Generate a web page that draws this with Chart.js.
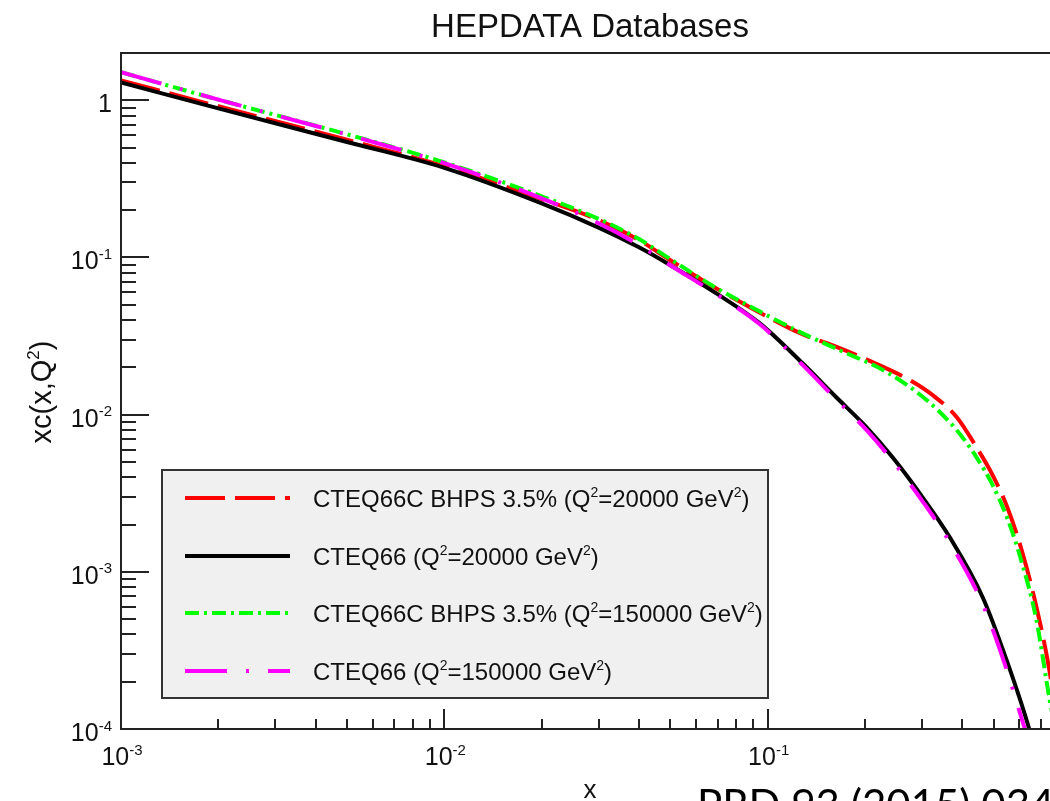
<!DOCTYPE html>
<html>
<head>
<meta charset="utf-8">
<script src="https://cdn.jsdelivr.net/npm/chart.js@4.4.0/dist/chart.umd.min.js"></script>
<style>
  html, body { margin: 0; padding: 0; background: #fff; overflow: hidden; }
  #wrap { position: relative; width: 1100px; height: 801px; }
</style>
</head>
<body>
<div id="wrap"><canvas id="chart-pdf" width="1100" height="801"></canvas></div>
<script>
// CTEQ66C BHPS 3.5%, Q^2 = 20000 GeV^2
var xBhps20k = [0.001, 0.002, 0.005, 0.01, 0.02, 0.03, 0.04, 0.05, 0.07, 0.094, 0.126, 0.167, 0.211, 0.275, 0.324, 0.384, 0.442, 0.496, 0.552, 0.610, 0.678, 0.745, 0.799];
var yBhps20k = [1.34, 0.916, 0.561, 0.380, 0.235, 0.173, 0.129, 0.0961, 0.0629, 0.0449, 0.0330, 0.0265, 0.0216, 0.0166, 0.0133, 0.00966, 0.00622, 0.00413, 0.00255, 0.00138, 0.000598, 0.000231, 0.0000854];

// CTEQ66, Q^2 = 20000 GeV^2
var xCteq20k = [0.001, 0.002, 0.005, 0.01, 0.02, 0.03, 0.04, 0.05, 0.07, 0.0944, 0.128, 0.163, 0.202, 0.243, 0.301, 0.365, 0.462, 0.548, 0.645, 0.67];
var yCteq20k = [1.30, 0.889, 0.543, 0.372, 0.221, 0.155, 0.116, 0.0893, 0.0584, 0.0382, 0.0213, 0.0129, 0.00834, 0.00537, 0.00299, 0.00167, 0.000692, 0.000275, 0.0000989, 0.000073];

// CTEQ66C BHPS 3.5%, Q^2 = 150000 GeV^2
var xBhps150k = [0.001, 0.002, 0.005, 0.01, 0.02, 0.03, 0.04, 0.05, 0.07, 0.094, 0.126, 0.167, 0.233, 0.310, 0.384, 0.442, 0.496, 0.552, 0.610, 0.678, 0.745, 0.788];
var yBhps150k = [1.51, 1.01, 0.608, 0.403, 0.245, 0.176, 0.131, 0.0976, 0.0633, 0.0456, 0.0335, 0.0257, 0.0187, 0.0124, 0.00798, 0.00537, 0.00357, 0.00217, 0.00116, 0.000494, 0.000153, 0.0000854];

// CTEQ66, Q^2 = 150000 GeV^2
var xCteq150k = [0.001, 0.002, 0.005, 0.01, 0.02, 0.03, 0.04, 0.05, 0.07, 0.0944, 0.128, 0.163, 0.202, 0.243, 0.301, 0.365, 0.462, 0.548, 0.62, 0.65];
var yCteq150k = [1.51, 1.01, 0.605, 0.398, 0.238, 0.165, 0.120, 0.0893, 0.0578, 0.0377, 0.0208, 0.0125, 0.0080, 0.0051, 0.00282, 0.00155, 0.000625, 0.000240, 0.000105, 0.000078];

var seriesLabels = [
  "CTEQ66C BHPS 3.5% (Q^{2}=20000 GeV^{2})",
  "CTEQ66 (Q^{2}=20000 GeV^{2})",
  "CTEQ66C BHPS 3.5% (Q^{2}=150000 GeV^{2})",
  "CTEQ66 (Q^{2}=150000 GeV^{2})"
];

var yTickValues = [0.0001, 0.001, 0.01, 0.1, 1];
var yTickLabels = ["10^{-4}", "10^{-3}", "10^{-2}", "10^{-1}", "1"];
var xTickValues = [0.001, 0.01, 0.1];
var xTickLabels = ["10^{-3}", "10^{-2}", "10^{-1}"];

var chartTitle = "HEPDATA Databases";
var xTitle = "x";
var yTitle = "xc(x,Q^{2})";
var footNote = "PRD 93 (2015) 034031";

var FONT = "'Liberation Sans', Arial, Helvetica, sans-serif";

function toPoints(xs, ys) {
  return xs.map(function (x, i) { return { x: x, y: ys[i] }; });
}

// split "Q^{2}" style text into normal / superscript pieces
function richParts(str) {
  var parts = [];
  var re = /\^\{([^}]*)\}/g, last = 0, m;
  while ((m = re.exec(str))) {
    if (m.index > last) parts.push({ t: str.slice(last, m.index), sup: false });
    parts.push({ t: m[1], sup: true });
    last = re.lastIndex;
  }
  if (last < str.length) parts.push({ t: str.slice(last), sup: false });
  return parts;
}

function drawRich(ctx, str, x, y, size, align) {
  var parts = richParts(str);
  var supSize = Math.round(size * 0.6);
  var widths = parts.map(function (p) {
    ctx.font = (p.sup ? supSize : size) + "px " + FONT;
    return ctx.measureText(p.t).width;
  });
  var total = widths.reduce(function (a, b) { return a + b; }, 0);
  var cx = align === "right" ? x - total : align === "center" ? x - total / 2 : x;
  ctx.textAlign = "left";
  ctx.textBaseline = "alphabetic";
  parts.forEach(function (p, i) {
    ctx.font = (p.sup ? supSize : size) + "px " + FONT;
    ctx.fillText(p.t, cx, p.sup ? y - size * 0.42 : y);
    cx += widths[i];
  });
}

function minorTicks(fromExp, toExp, max) {
  var out = [];
  for (var e = fromExp; e <= toExp; e++) {
    for (var m = 2; m <= 9; m++) {
      var v = m * Math.pow(10, e);
      if (v < max) out.push(v);
    }
  }
  return out;
}

var rootStyle = {
  id: "rootStyle",
  afterDraw: function (chart) {
    var ctx = chart.ctx;
    var area = chart.chartArea;
    var xs = chart.scales.x, ys = chart.scales.y;
    ctx.save();

    // frame
    ctx.strokeStyle = "#222";
    ctx.lineWidth = 2;
    ctx.strokeRect(area.left, area.top, area.right - area.left, area.bottom - area.top);

    // ticks point inward, ROOT style
    ctx.beginPath();
    yTickValues.forEach(function (v) {
      var py = Math.round(ys.getPixelForValue(v));
      ctx.moveTo(area.left, py); ctx.lineTo(area.left + 28, py);
    });
    minorTicks(-4, 0, ys.max).forEach(function (v) {
      var py = Math.round(ys.getPixelForValue(v));
      ctx.moveTo(area.left, py); ctx.lineTo(area.left + 15, py);
    });
    xTickValues.concat([1]).forEach(function (v) {
      var px = Math.round(xs.getPixelForValue(v));
      ctx.moveTo(px, area.bottom); ctx.lineTo(px, area.bottom - 20);
    });
    minorTicks(-3, -1, xs.max).forEach(function (v) {
      var px = Math.round(xs.getPixelForValue(v));
      ctx.moveTo(px, area.bottom); ctx.lineTo(px, area.bottom - 10);
    });
    ctx.stroke();

    // tick labels
    ctx.fillStyle = "#111";
    yTickValues.forEach(function (v, i) {
      drawRich(ctx, yTickLabels[i], area.left - 9, ys.getPixelForValue(v) + 12, 25, "right");
    });
    xTickValues.forEach(function (v, i) {
      drawRich(ctx, xTickLabels[i], xs.getPixelForValue(v) + 1, area.bottom + 36, 25, "center");
    });

    // titles
    ctx.font = "33px " + FONT;
    ctx.textAlign = "center";
    ctx.fillText(chartTitle, 590, 37);
    drawRich(ctx, xTitle, 590, 798, 26, "center");
    ctx.save();
    ctx.translate(51, 392);
    ctx.rotate(-Math.PI / 2);
    drawRich(ctx, yTitle, 0, 0, 29, "center");
    ctx.restore();

    // legend
    var box = { left: 162, top: 470, right: 768, bottom: 698 };
    ctx.fillStyle = "#f0f0f0";
    ctx.fillRect(box.left, box.top, box.right - box.left, box.bottom - box.top);
    ctx.strokeStyle = "#333";
    ctx.lineWidth = 2;
    ctx.strokeRect(box.left, box.top, box.right - box.left, box.bottom - box.top);
    var rows = [498, 556, 613, 671];
    chart.data.datasets.forEach(function (ds, i) {
      ctx.save();
      ctx.strokeStyle = ds.borderColor;
      ctx.lineWidth = ds.borderWidth;
      ctx.setLineDash(ds.borderDash || []);
      ctx.beginPath();
      ctx.moveTo(185, rows[i]);
      ctx.lineTo(290, rows[i]);
      ctx.stroke();
      ctx.restore();
      ctx.fillStyle = "#111";
      drawRich(ctx, seriesLabels[i], 313, rows[i] + 9, 24, "left");
    });

    // footnote, cut by the page edge as in the original slide
    ctx.fillStyle = "#000";
    ctx.font = "42px Lato, 'Open Sans', sans-serif";
    ctx.textAlign = "left";
    ctx.fillText(footNote, 697, 820);

    ctx.restore();
  }
};

var ctx = document.getElementById("chart-pdf").getContext("2d");

var chartConfig = {
  type: "line",
  data: {
    datasets: [
      {
        label: seriesLabels[0],
        data: toPoints(xBhps20k, yBhps20k),
        borderColor: "#ff0000",
        borderWidth: 4,
        borderDash: [40, 10],
        order: 4,
      },
      {
        label: seriesLabels[1],
        data: toPoints(xCteq20k, yCteq20k),
        borderColor: "#000000",
        borderWidth: 4,
        order: 3,
      },
      {
        label: seriesLabels[2],
        data: toPoints(xBhps150k, yBhps150k),
        borderColor: "#00ff00",
        borderWidth: 4,
        borderDash: [14, 5, 3, 5],
        order: 2,
      },
      {
        label: seriesLabels[3],
        data: toPoints(xCteq150k, yCteq150k),
        borderColor: "#ff00ff",
        borderWidth: 4,
        borderDash: [42, 19, 3, 19],
        order: 1,
      },
    ],
  },
  options: {
    responsive: false,
    animation: false,
    events: [],
    layout: {
      padding: { left: 121, top: 53, right: 9, bottom: 72 },
    },
    elements: {
      point: { radius: 0 },
      line: { cubicInterpolationMode: "monotone", fill: false },
    },
    plugins: {
      legend: { display: false },
      tooltip: { enabled: false },
      title: { display: false },
    },
    scales: {
      x: { type: "logarithmic", min: 0.001, max: 1, display: false },
      y: { type: "logarithmic", min: 0.0001, max: 2, display: false },
    },
  },
  plugins: [rootStyle],
};

var chartInstance = new Chart(ctx, chartConfig);
</script>
</body>
</html>
